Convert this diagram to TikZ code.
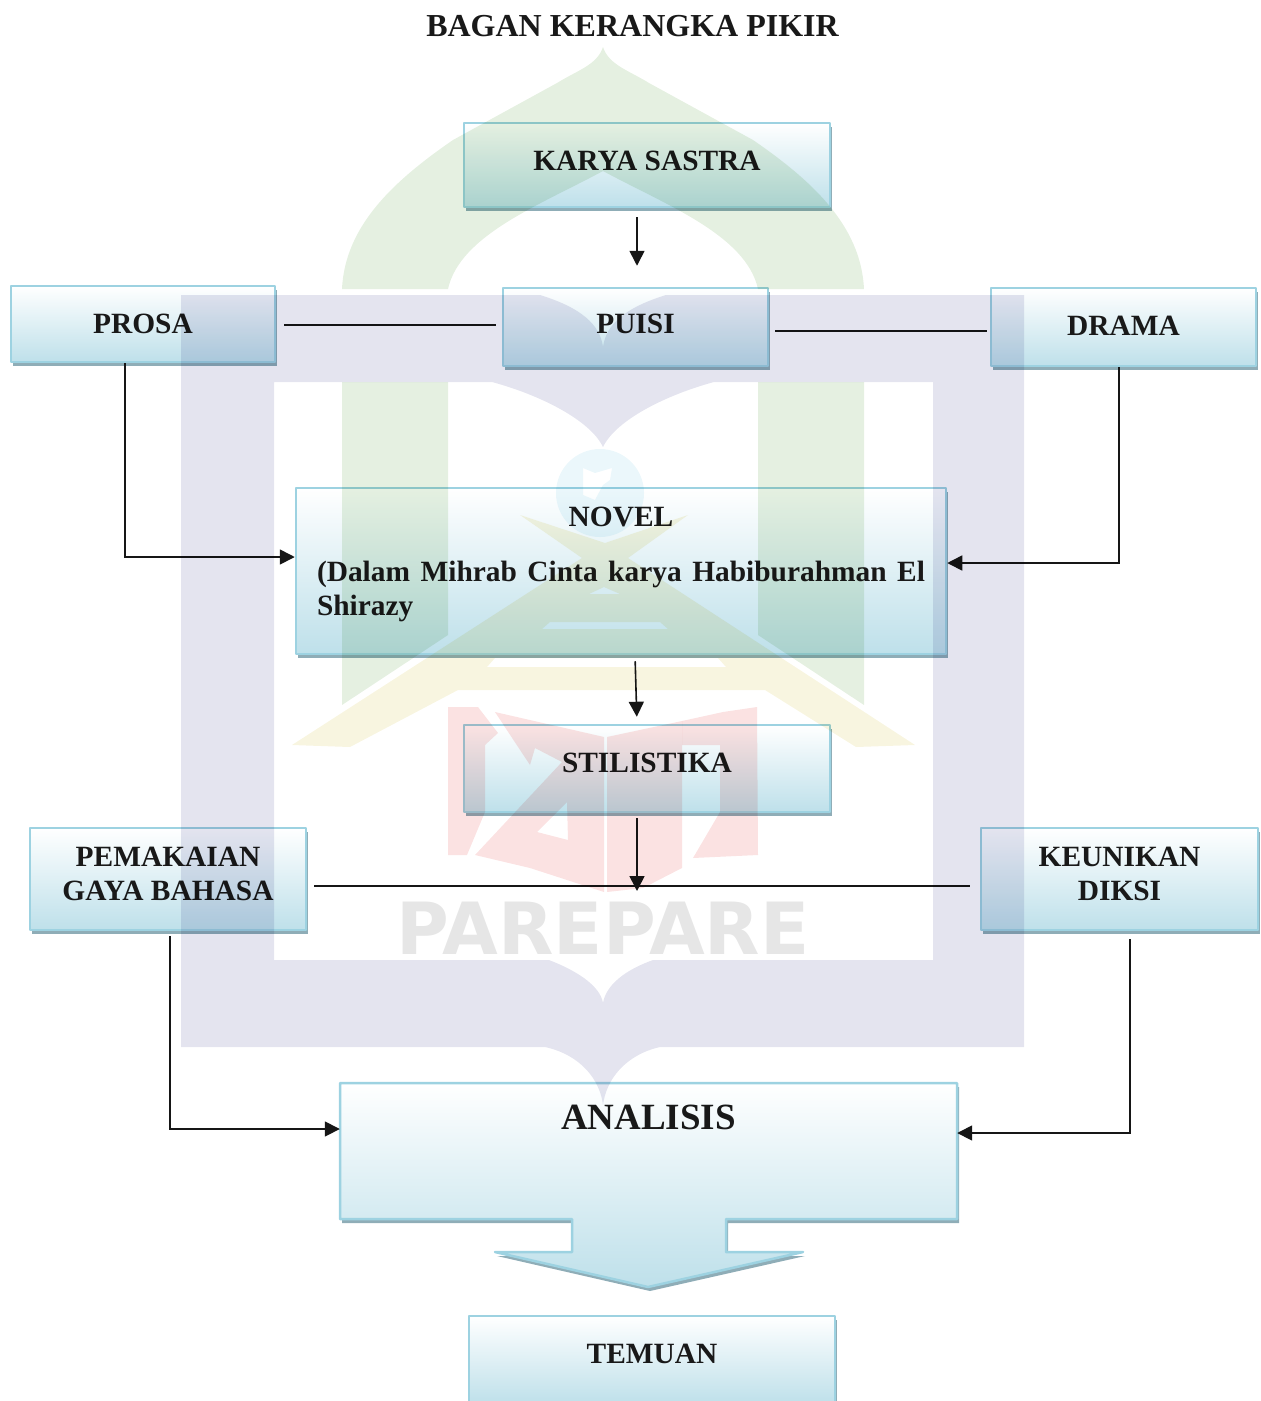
\documentclass[tikz,border=0pt]{standalone}
\usepackage{fontspec}
\setmainfont{Liberation Serif}
\newfontfamily\wmfont{DejaVu Sans}
\usetikzlibrary{arrows.meta,shadows}
\definecolor{boxline}{HTML}{9DD2E1}
\definecolor{boxfill}{HTML}{BEE0EA}
\definecolor{boxshade}{HTML}{5F8A99}
\definecolor{wmframe}{HTML}{E4E4EF}
\definecolor{wmgreen}{HTML}{E5F0E1}
\definecolor{wmyellow}{HTML}{F8F5E0}
\definecolor{wmred}{HTML}{FBE2E2}
\definecolor{wmblue}{HTML}{EBF7FB}
\definecolor{wmgray}{HTML}{E6E6E6}
\definecolor{inkline}{HTML}{161616}
\tikzset{
	boxshadow/.style={drop shadow={shadow xshift=2pt,shadow yshift=-4pt,fill=boxshade,opacity=.7}},
	box/.style={draw=boxline,line width=2.5pt,line join=round,top color=white,bottom color=boxfill,boxshadow,inner sep=0pt,text=black!90,text height=20pt,font=\fontsize{29.4}{34}\selectfont\bfseries},
	link/.style={draw=inkline,line width=1.6pt},
	arrowlink/.style={link,-{Triangle[length=15pt,width=15pt]}}
}
\begin{document}
\begin{tikzpicture}[x=1pt,y=-1pt]
	\useasboundingbox (0,0) rectangle (1261,1401);
	\node (title) at (632.5,26) [font=\fontsize{32}{36}\selectfont\bfseries,text=black!90] {BAGAN KERANGKA PIKIR};
	\node (karya) at (647,165) [box,minimum width=366pt,minimum height=84pt,text depth=10pt] {KARYA SASTRA};
	\node (prosa) at (143,324) [box,minimum width=264pt,minimum height=76pt,text depth=2pt] {PROSA};
	\node (puisi) at (635.5,327) [box,minimum width=265pt,minimum height=78pt,text depth=8pt] {PUISI};
	\node (drama) at (1123.5,327) [box,minimum width=265pt,minimum height=78pt,text depth=4pt] {DRAMA};
	\node (novel) at (621,571) [box,minimum width=650pt,minimum height=166pt,text width=608pt,align=justify,text depth=110pt] {\centerline{NOVEL}\par\vspace{21pt}(Dalam Mihrab Cinta karya Habiburahman El Shirazy};
	\node (stilistika) at (647,768.5) [box,minimum width=366pt,minimum height=87pt,text depth=13pt] {STILISTIKA};
	\node (gaya) at (168,879) [box,minimum width=276pt,minimum height=102pt,align=center,text height=42pt,text depth=0pt] {PEMAKAIAN\\GAYA BAHASA};
	\node (diksi) at (1119.5,879) [box,minimum width=277pt,minimum height=102pt,align=center,text height=42pt,text depth=0pt] {KEUNIKAN\\DIKSI};
	\path[draw=boxline,line width=2.5pt,line join=round,top color=white,bottom color=boxfill,boxshadow] (340,1083) -- (957,1083) -- (957,1219) -- (726,1219) -- (726,1252) -- (803,1252) -- (648,1287) -- (495,1252) -- (572,1252) -- (572,1219) -- (340,1219) -- cycle;
	\node (analisis) at (648.5,1151) [minimum width=617pt,minimum height=136pt,inner sep=0pt,text=black!90,text height=20pt,text depth=64pt,font=\fontsize{37}{40}\selectfont\bfseries] {ANALISIS};
	\node (temuan) at (652,1360) [box,minimum width=366pt,minimum height=88pt,text depth=14pt] {TEMUAN};
	\coordinate (junction) at (637,891);

	\draw[arrowlink,shorten <=9pt,shorten >=21pt] ([xshift=-10pt]karya.south) -- ([xshift=1.5pt]puisi.north);
	\draw[link,shorten <=8pt,shorten >=6pt] ([yshift=-1pt]prosa.east) -- ([yshift=-1pt]prosa.east -| puisi.west);
	\draw[link,shorten <=6pt,shorten >=3pt] ([yshift=-4pt]puisi.east) -- ([yshift=-4pt]drama.west);
	\draw[arrowlink] ([xshift=-18pt]prosa.south) |- ([yshift=14pt]novel.west);
	\draw[arrowlink] ([xshift=-4.5pt]drama.south) |- ([yshift=8pt]novel.east);
	\draw[arrowlink,shorten <=6pt,shorten >=7pt] ([xshift=14pt]novel.south) -- ([xshift=-10pt]stilistika.north);
	\draw[link,shorten <=7pt,shorten >=10pt] ([yshift=-7pt]gaya.east) -- ([yshift=-7pt]diksi.west);
	\draw[arrowlink,shorten <=5pt] ([xshift=-10pt]stilistika.south) -- (junction);
	\draw[arrowlink,shorten <=5pt] ([xshift=2pt]gaya.south) |- ([yshift=22pt]analisis.west);
	\draw[arrowlink,shorten <=8pt] ([xshift=10.5pt]diksi.south) |- ([yshift=18pt]analisis.east);

	\begin{scope}[blend mode=multiply]
		\fill[wmframe,even odd rule] (181,295) -- (540,295) .. controls (582,308) and (600,325) .. (603,347) .. controls (606,325) and (624,308) .. (666,295) -- (1024,295) -- (1024,1047) -- (660,1047) .. controls (625,1055) and (606,1080) .. (603,1105) .. controls (600,1080) and (581,1055) .. (545,1047) -- (181,1047) -- cycle
			(274,382) -- (492,382) .. controls (540,395) and (590,420) .. (603,447) .. controls (616,420) and (666,395) .. (714,382) -- (933,382) -- (933,960) -- (653,960) .. controls (625,970) and (606,985) .. (603,1003) .. controls (600,985) and (575,970) .. (549,960) -- (274,960) -- cycle;
		\fill[wmgreen] (342,289) .. controls (345,225) and (395,180) .. (453,140) -- (557,83) .. controls (578,70) and (597,65) .. (603,47) .. controls (609,65) and (628,70) .. (649,83) -- (753,140) .. controls (811,180) and (861,225) .. (864,289) -- (758,289) .. controls (746,235) and (666,205) .. (603,171) .. controls (540,205) and (460,235) .. (448,289) -- cycle;
		\fill[wmgreen] (342,382) -- (448,382) -- (448,635) -- (342,705) -- cycle;
		\fill[wmgreen] (758,382) -- (864,382) -- (864,705) -- (758,635) -- cycle;
		\fill[wmyellow,even odd rule] (292,745) -- (582,558) -- (520,515) -- (605,543) -- (688,515) -- (628,558) -- (915,745) -- (856,747) -- (765,690) -- (458,690) -- (350,747) -- cycle
			(604,587) -- (620,594) -- (589,594) -- cycle
			(550,622) -- (660,622) -- (668,629) -- (542,629) -- cycle
			(495,658) -- (718,658) -- (726,667) -- (487,667) -- cycle;
		\fill[wmblue,even odd rule] (600,493) circle [radius=44]
			(583,468) -- (595,473) -- (612,468) -- (610,480) -- (603,485) -- (595,500) -- (583,495) -- cycle;
		\fill[wmred] (448,707) -- (478,707) -- (498,733) -- (485,745) -- (485,812) -- (467,855) -- (448,855) -- cycle;
		\fill[wmred,even odd rule] (495,712) -- (604,737) -- (604,892) -- (530,868) -- (475,855) -- (562,762) -- (535,748) -- (530,765) -- cycle
			(567,802) -- (568,840) -- (537,832) -- cycle;
		\fill[wmred] (607,737) -- (682,721) -- (682,868) -- (643,888) -- (607,892) -- cycle;
		\fill[wmred] (682,721) -- (723,712) -- (757,707) -- (758,855) -- (693,858) -- (720,812) -- (720,745) -- (682,745) -- cycle;
		\node (wmtext) at (603,928) [inner sep=0pt,text=wmgray,font=\fontsize{72}{74}\selectfont\wmfont\bfseries] {PAREPARE};
	\end{scope}
\end{tikzpicture}
\end{document}
